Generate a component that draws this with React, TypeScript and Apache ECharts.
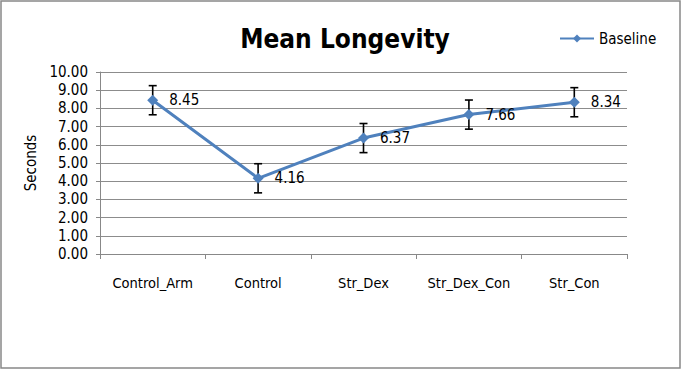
import React, { useEffect, useRef } from "react";
import * as echarts from "echarts";

const categories = ["Control_Arm", "Control", "Str_Dex", "Str_Dex_Con", "Str_Con"];
const baseline = [8.45, 4.16, 6.37, 7.66, 8.34];
const errors = [0.8, 0.8, 0.8, 0.8, 0.8];
const seriesName = "Baseline";
const titleText = "Mean Longevity";
const yAxisName = "Seconds";

export default function App() {
  const ref = useRef<HTMLDivElement>(null);
  useEffect(() => {
    if (!ref.current) return;
    const chart = echarts.init(ref.current, null, { renderer: "svg" });
    const font = "'DejaVu Sans Condensed', Arial, sans-serif";
    const errData = categories.map((c, i) => [i, baseline[i] - errors[i], baseline[i] + errors[i]]);
    chart.setOption({
      animation: false,
      backgroundColor: "#ffffff",
      textStyle: { fontFamily: font },
      graphic: [
        {
          type: "rect",
          shape: { x: 1, y: 1, width: 679, height: 367 },
          style: { fill: "none", stroke: "#888888", lineWidth: 1.5 },
          silent: true,
        },
      ],
      title: {
        text: titleText,
        left: 340,
        textAlign: "center",
        top: 21,
        textStyle: { fontFamily: font, fontSize: 26, fontWeight: "bold", color: "#000" },
      },
      legend: {
        data: [seriesName],
        left: 554,
        top: 26,
        itemWidth: 34,
        itemHeight: 10,
        itemGap: 4,
        textStyle: { fontFamily: font, fontSize: 15, color: "#000" },
      },
      grid: { left: 100, top: 72, width: 527, height: 182, containLabel: false },
      xAxis: {
        type: "category",
        data: categories,
        boundaryGap: true,
        axisLine: { lineStyle: { color: "#888888", width: 1 } },
        axisTick: { show: true, interval: 0, length: 5, alignWithLabel: false, lineStyle: { color: "#888888" } },
        axisLabel: { interval: 0, margin: 21, fontSize: 14.5, color: "#000", fontFamily: font },
      },
      yAxis: {
        type: "value",
        min: 0,
        max: 10,
        interval: 1,
        name: yAxisName,
        nameLocation: "middle",
        nameGap: 60,
        nameRotate: 90,
        nameTextStyle: { fontSize: 15, color: "#000", fontFamily: font },
        axisLine: { show: true, lineStyle: { color: "#888888", width: 1 } },
        axisTick: { show: true, length: 4, lineStyle: { color: "#888888" } },
        splitLine: { lineStyle: { color: "#8c8c8c", width: 1 } },
        axisLabel: {
          fontSize: 15,
          color: "#000",
          margin: 12,
          fontFamily: font,
          formatter: (v: number) => v.toFixed(2),
        },
      },
      series: [
        {
          type: "custom",
          name: "err",
          z: 1,
          silent: true,
          data: errData,
          renderItem: (params: any, api: any) => {
            const x = api.value(0);
            const lo = api.coord([x, api.value(1)]);
            const hi = api.coord([x, api.value(2)]);
            const w = 4;
            const style = { stroke: "#000", lineWidth: 1.6 };
            return {
              type: "group",
              children: [
                { type: "line", shape: { x1: hi[0], y1: hi[1], x2: lo[0], y2: lo[1] }, style },
                { type: "line", shape: { x1: hi[0] - w, y1: hi[1], x2: hi[0] + w, y2: hi[1] }, style },
                { type: "line", shape: { x1: lo[0] - w, y1: lo[1], x2: lo[0] + w, y2: lo[1] }, style },
              ],
            };
          },
        },
        {
          type: "line",
          name: seriesName,
          z: 3,
          data: baseline,
          symbol: "diamond",
          symbolSize: 11,
          itemStyle: { color: "#4F81BD" },
          lineStyle: { color: "#4F81BD", width: 3 },
          label: {
            show: true,
            position: "right",
            distance: 11,
            fontSize: 15,
            color: "#000",
            fontFamily: font,
            formatter: (p: any) => p.value.toFixed(2),
          },
        },
      ],
    });
    return () => chart.dispose();
  }, []);
  return (
    <div
      ref={ref}
      style={{ position: "fixed", left: 0, top: 0, width: 682, height: 371 }}
    />
  );
}
